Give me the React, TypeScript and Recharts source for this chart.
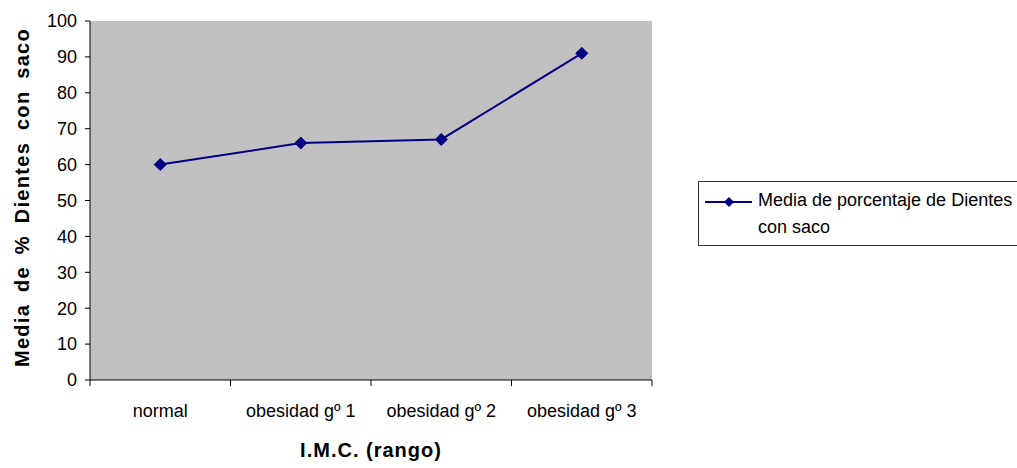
import React from 'react';
import { LineChart, Line, XAxis, YAxis, CartesianGrid, Label } from 'recharts';

// BMI ranges and mean % of teeth with pocket for each
const categories = ['normal', 'obesidad gº 1', 'obesidad gº 2', 'obesidad gº 3'];
const mediaValues = [60, 66, 67, 91];
const yTicks = [0, 10, 20, 30, 40, 50, 60, 70, 80, 90, 100];
const seriesName = 'Media de porcentaje de Dientes con saco';

const data = categories.map((rango, i) => ({ rango, media: mediaValues[i] }));

const W = 1017;
const H = 468;
const LEFT = 90;
const RIGHT = 365;
const TOP = 21;
const BOTTOM = 88;
const BAND = (W - LEFT - RIGHT) / categories.length;
const NAVY = '#000080';
const FONT = '"Liberation Sans", Arial, sans-serif';

// category label centred in its band, tick marks on the band edges
const BandTick = (props: any) => {
  const { x, y, payload, index } = props;
  const left = x - BAND / 2;
  const right = x + BAND / 2;
  return (
    <g>
      <line x1={left} y1={y} x2={left} y2={y + 6} stroke="#000" strokeWidth={1} />
      {index === categories.length - 1 && (
        <line x1={right} y1={y} x2={right} y2={y + 6} stroke="#000" strokeWidth={1} />
      )}
      <text x={x} y={y + 37} textAnchor="middle" fontSize={18} fontFamily={FONT} fill="#000">
        {payload.value}
      </text>
    </g>
  );
};

const Diamond = (props: any) => {
  const { cx, cy, r = 6 } = props;
  if (cx == null || cy == null) return null;
  return (
    <polygon
      points={`${cx},${cy - r} ${cx + r},${cy} ${cx},${cy + r} ${cx - r},${cy}`}
      fill={NAVY}
      stroke={NAVY}
    />
  );
};

const LegendBox = () => (
  <div
    style={{
      position: 'absolute',
      left: 698,
      top: 181,
      boxSizing: 'border-box',
      width: 340,
      height: 65,
      border: '1px solid #333',
      background: '#fff',
      display: 'flex',
      alignItems: 'flex-start',
      fontFamily: FONT,
      fontSize: 18,
      lineHeight: '27px',
      color: '#000',
    }}
  >
    <svg width={47} height={40} style={{ marginLeft: 6, flex: 'none' }}>
      <line x1={0} y1={20} x2={47} y2={20} stroke={NAVY} strokeWidth={2} />
      <Diamond cx={24} cy={20} r={4.5} />
    </svg>
    <div style={{ marginLeft: 6, marginTop: 5, width: 262 }}>{seriesName}</div>
  </div>
);

export default function App() {
  return (
    <div style={{ position: 'absolute', left: 0, top: 0, width: W, height: H, overflow: 'hidden', background: '#fff' }}>
      <LineChart width={W} height={H} data={data} margin={{ top: TOP, right: RIGHT, bottom: 0, left: 0 }}>
        <CartesianGrid fill="#c0c0c0" horizontal={false} vertical={false} />
        <XAxis
          dataKey="rango"
          scale="band"
          height={BOTTOM}
          axisLine={{ stroke: '#000', strokeWidth: 1 }}
          tickLine={false}
          tickSize={0}
          tickMargin={0}
          tick={<BandTick />}
          interval={0}
        >
          <Label
            content={({ viewBox }: any) => (
              <text
                x={viewBox.x + viewBox.width / 2}
                y={viewBox.y + 77}
                textAnchor="middle"
                fontSize={20}
                fontWeight="bold"
                letterSpacing={1}
                fontFamily={FONT}
                fill="#000"
              >
                I.M.C. (rango)
              </text>
            )}
          />
        </XAxis>
        <XAxis xAxisId="top" dataKey="rango" scale="band" orientation="top" height={0} tick={false} tickLine={false} axisLine={{ stroke: '#808080', strokeWidth: 1.5 }} />
        <YAxis
          width={LEFT}
          domain={[0, 100]}
          ticks={yTicks}
          interval={0}
          tickSize={5}
          tickMargin={8}
          axisLine={{ stroke: '#000', strokeWidth: 1 }}
          tickLine={{ stroke: '#000' }}
          tick={{ fill: '#000', fontSize: 18, fontFamily: FONT }}
        >
          <Label
            content={({ viewBox }: any) => {
              const cx = 22;
              const cy = viewBox.y + viewBox.height / 2 - 3;
              return (
                <text
                  x={cx}
                  y={cy}
                  transform={`rotate(-90 ${cx} ${cy})`}
                  textAnchor="middle"
                  dominantBaseline="central"
                  fontSize={20}
                  fontWeight="bold"
                  letterSpacing={1.3}
                  wordSpacing={5}
                  fontFamily={FONT}
                  fill="#000"
                >
                  Media de % Dientes con saco
                </text>
              );
            }}
          />
        </YAxis>
        <YAxis yAxisId="right" orientation="right" width={0} domain={[0, 100]} tick={false} tickLine={false} axisLine={{ stroke: '#808080', strokeWidth: 1.5 }} />
        <Line
          type="linear"
          dataKey="media"
          name={seriesName}
          stroke={NAVY}
          strokeWidth={2}
          dot={(p: any) => <Diamond key={`d-${p.index}`} cx={p.cx} cy={p.cy} r={6} />}
          activeDot={false}
          isAnimationActive={false}
        />
      </LineChart>
      <LegendBox />
    </div>
  );
}
